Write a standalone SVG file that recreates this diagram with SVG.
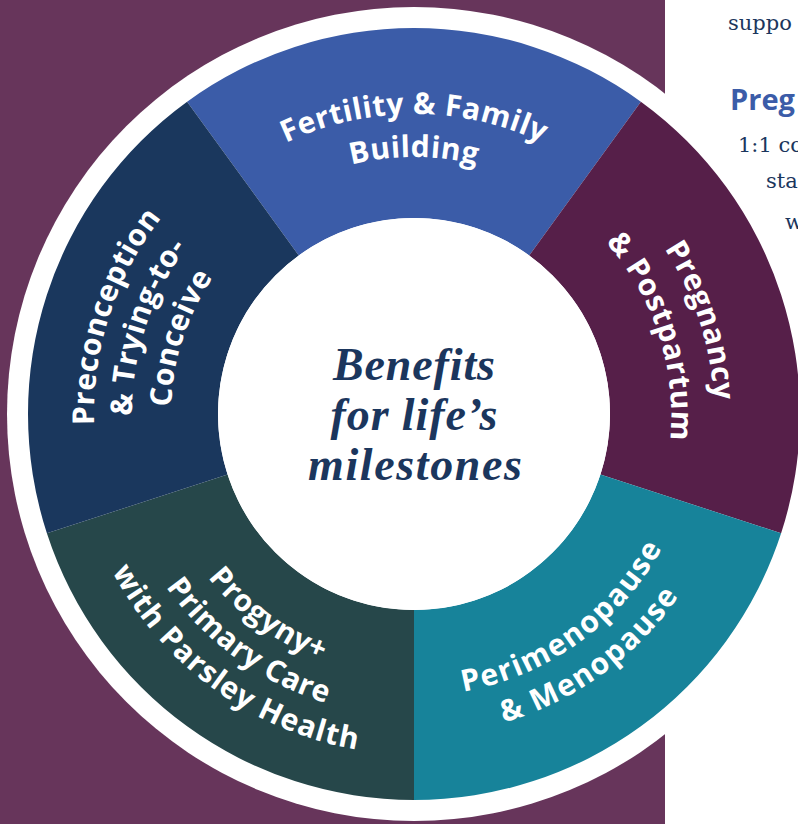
<svg xmlns="http://www.w3.org/2000/svg" xmlns:xlink="http://www.w3.org/1999/xlink" width="798" height="824" viewBox="0 0 798 824">
<defs>
<style>
.lbl{font-family:"Open Sans","Noto Sans",sans-serif;font-weight:700;font-size:30px;letter-spacing:0.5px;fill:#ffffff}
.wide{letter-spacing:1.6px}
.wider{letter-spacing:1.1px}
.ctr{font-family:"Liberation Serif",serif;font-weight:700;font-style:italic;font-size:46px;fill:#1B365D;text-anchor:middle}
.body{font-family:"DejaVu Serif",serif;font-size:21px;fill:#1B365D}
.head{font-family:"Open Sans","Noto Sans",sans-serif;font-weight:700;font-size:29px;fill:#3B5CA8}
</style>
<path id="pF1" d="M 114 414 A 300 300 0 0 1 714 414"/>
<path id="pF2" d="M 157 414 A 257 257 0 0 1 671 414"/>
<path id="pP1" d="M 321.29 128.68 A 300 300 0 0 1 506.71 699.32"/>
<path id="pP2" d="M 334.27 168.63 A 258 258 0 0 1 493.73 659.37"/>
<path id="pC1" d="M 315.11 718.34 A 320 320 0 0 1 512.89 109.66"/>
<path id="pC2" d="M 326.86 682.20 A 282 282 0 0 1 501.14 145.80"/>
<path id="pC3" d="M 338.91 645.11 A 243 243 0 0 1 489.09 182.89"/>
<path id="pG1" d="M 201.23 259.41 A 263 263 0 0 0 626.77 568.59"/>
<path id="pG2" d="M 168.87 235.90 A 303 303 0 0 0 659.13 592.10"/>
<path id="pG3" d="M 137.32 212.98 A 342 342 0 0 0 690.68 615.02"/>
<path id="pM1" d="M 185.86 579.76 A 282 282 0 0 0 642.14 248.24"/>
<path id="pM2" d="M 153.50 603.27 A 322 322 0 0 0 674.50 224.73"/>
</defs>
<rect x="0" y="0" width="798" height="824" fill="#ffffff"/>
<rect x="0" y="0" width="665" height="824" fill="#67355B"/>
<g id="side-text">
<text class="body" x="728" y="30">suppo</text>
<text class="head" x="730" y="110">Preg</text>
<text class="body" x="738" y="152">1:1 co</text>
<text class="body" x="766" y="188">sta</text>
<text class="body" x="785" y="229">w</text>
</g>
<circle cx="414" cy="414" r="407" fill="#ffffff"/>
<g id="fertility">
<path d="M 187.11 101.72 A 386 386 0 0 1 640.89 101.72 L 529.21 255.43 A 196 196 0 0 0 298.79 255.43 Z" fill="#3B5CA8"/>
<text class="lbl" text-anchor="middle"><textPath href="#pF1" xlink:href="#pF1" startOffset="50%">Fertility &amp; Family</textPath></text>
<text class="lbl" text-anchor="middle"><textPath href="#pF2" xlink:href="#pF2" startOffset="50%">Building</textPath></text>
</g>
<g id="pregnancy">
<path d="M 640.89 101.72 A 386 386 0 0 1 781.11 533.28 L 600.41 474.57 A 196 196 0 0 0 529.21 255.43 Z" fill="#561F49"/>
<text class="lbl" text-anchor="middle"><textPath href="#pP1" xlink:href="#pP1" startOffset="50%">Pregnancy</textPath></text>
<text class="lbl" text-anchor="middle"><textPath href="#pP2" xlink:href="#pP2" startOffset="50%">&amp; Postpartum</textPath></text>
</g>
<g id="menopause">
<path d="M 781.11 533.28 A 386 386 0 0 1 414 800 L 414 610 A 196 196 0 0 0 600.41 474.57 Z" fill="#17839A"/>
<text class="lbl wide" text-anchor="middle"><textPath href="#pM1" xlink:href="#pM1" startOffset="50%">Perimenopause</textPath></text>
<text class="lbl wide" text-anchor="middle"><textPath href="#pM2" xlink:href="#pM2" startOffset="50%">&amp; Menopause</textPath></text>
</g>
<g id="primary-care">
<path d="M 414 800 A 386 386 0 0 1 46.89 533.28 L 227.59 474.57 A 196 196 0 0 0 414 610 Z" fill="#26474A"/>
<text class="lbl" text-anchor="middle"><textPath href="#pG1" xlink:href="#pG1" startOffset="50%">Progyny+</textPath></text>
<text class="lbl" text-anchor="middle"><textPath href="#pG2" xlink:href="#pG2" startOffset="50%">Primary Care</textPath></text>
<text class="lbl wider" text-anchor="middle"><textPath href="#pG3" xlink:href="#pG3" startOffset="50%">with Parsley Health</textPath></text>
</g>
<g id="preconception">
<path d="M 46.89 533.28 A 386 386 0 0 1 187.11 101.72 L 298.79 255.43 A 196 196 0 0 0 227.59 474.57 Z" fill="#1A375D"/>
<text class="lbl" text-anchor="middle"><textPath href="#pC1" xlink:href="#pC1" startOffset="50%">Preconception</textPath></text>
<text class="lbl" text-anchor="middle"><textPath href="#pC2" xlink:href="#pC2" startOffset="50%">&amp; Trying-to-</textPath></text>
<text class="lbl" text-anchor="middle"><textPath href="#pC3" xlink:href="#pC3" startOffset="50%">Conceive</textPath></text>
</g>
<g id="center">
<circle cx="414" cy="414" r="196" fill="#ffffff"/>
<text class="ctr" x="414" y="380" textLength="162" lengthAdjust="spacing">Benefits</text>
<text class="ctr" x="414" y="430" textLength="167" lengthAdjust="spacing">for life’s</text>
<text class="ctr" x="415" y="480" textLength="214" lengthAdjust="spacing">milestones</text>
</g>
</svg>
